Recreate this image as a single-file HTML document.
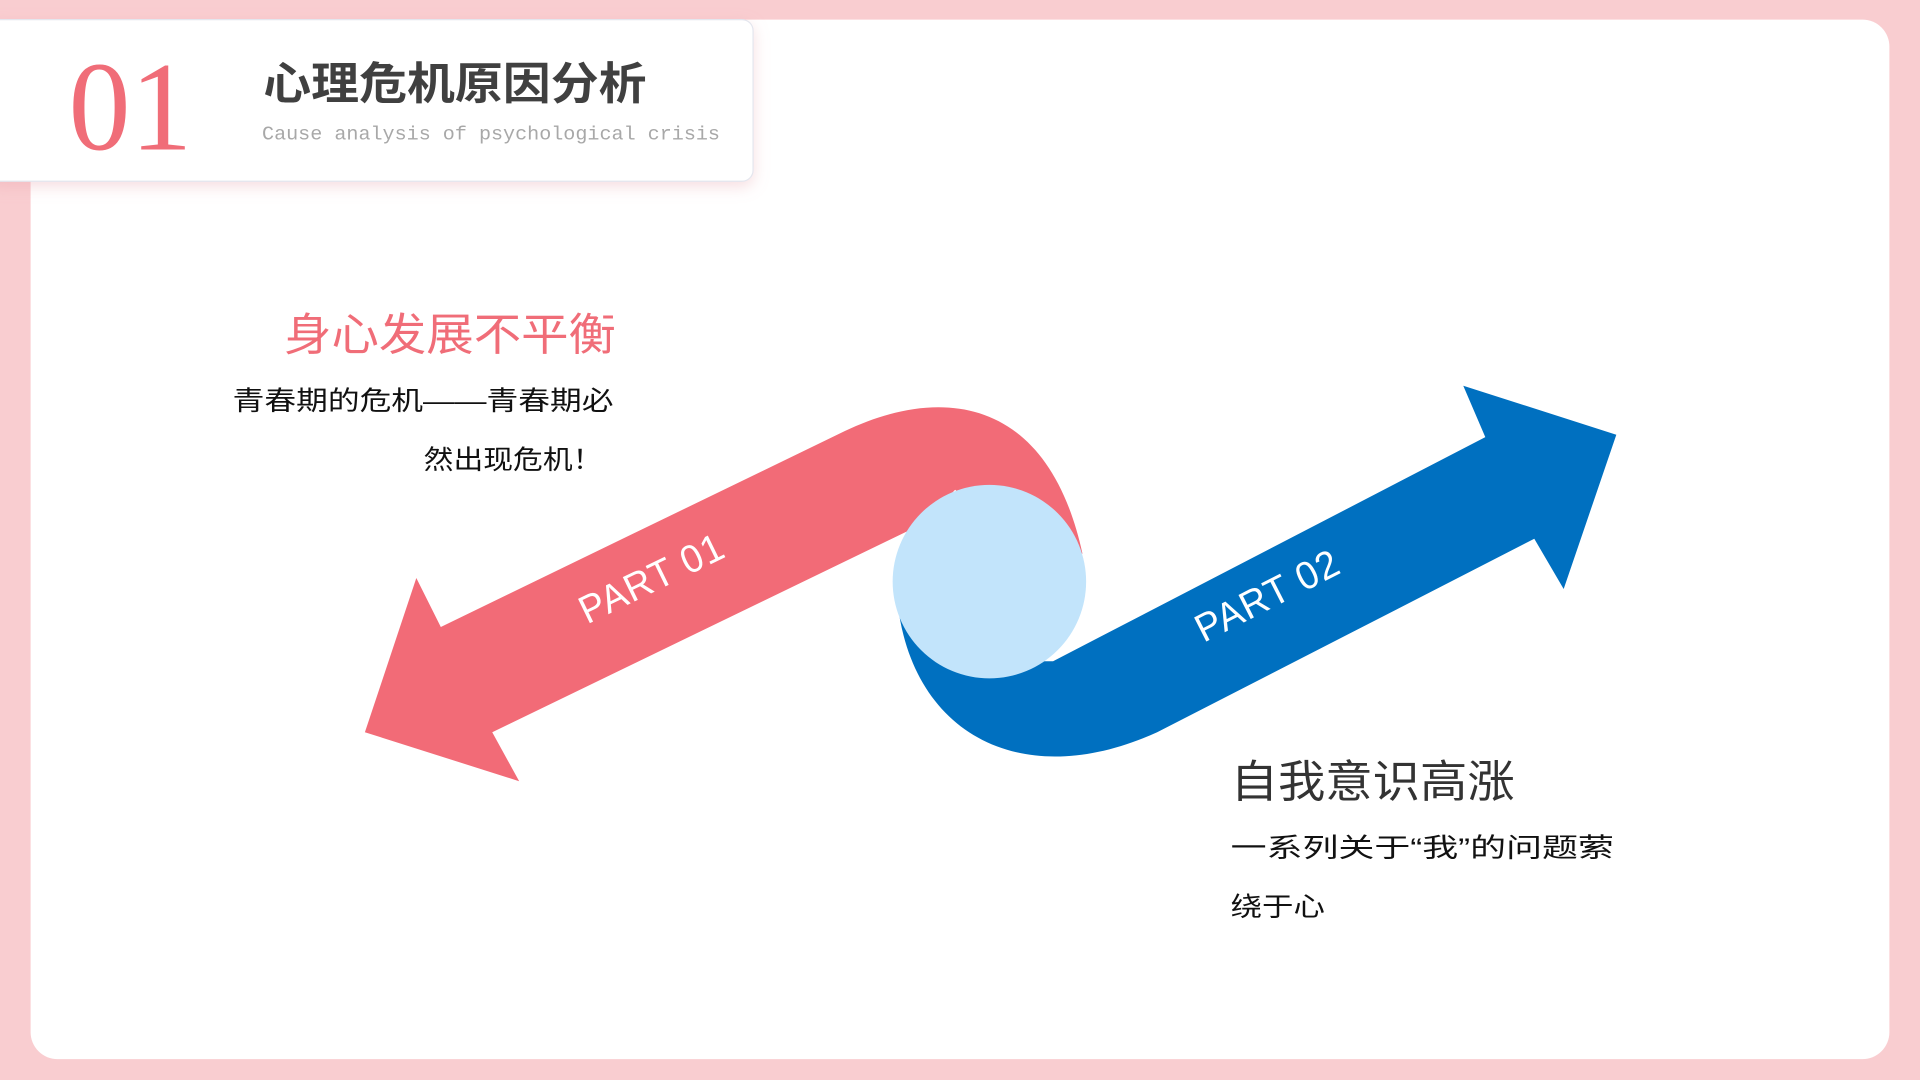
<!DOCTYPE html>
<html><head><meta charset="utf-8"><style>
html,body{margin:0;padding:0;background:#f9cdd0;}
svg{display:block}
</style></head><body>
<svg width="1920" height="1080" viewBox="0 0 1568 882" xmlns="http://www.w3.org/2000/svg">
<defs>
<filter id="sh" x="-10%" y="-20%" width="120%" height="150%"><feDropShadow dx="0" dy="4" stdDeviation="6" flood-color="#e8a0a8" flood-opacity="0.35"/></filter>
</defs>
<rect x="0" y="0" width="1568" height="882" fill="#f9cdd0"/>
<rect x="25" y="16" width="1518" height="849" rx="22" fill="#ffffff"/>
<rect x="-10" y="16" width="625" height="132" rx="9" fill="#ffffff" stroke="#e4e6ee" stroke-width="1" filter="url(#sh)"/>
<text x="56" y="122" font-family="Liberation Serif, serif" font-size="104" fill="#f06d78" textLength="101" lengthAdjust="spacingAndGlyphs">01</text>
<text x="215" y="81" font-family="Liberation Sans, 'Noto Sans CJK SC', sans-serif" font-size="36" font-weight="bold" fill="#404040" textLength="313" lengthAdjust="spacingAndGlyphs">心理危机原因分析</text>
<text x="214" y="114" font-family="Liberation Mono, monospace" font-size="16" fill="#a8a8a8" textLength="374" lengthAdjust="spacingAndGlyphs">Cause analysis of psychological crisis</text>

<path d="M360,512 L690,352 C765,316 855,320 884,452 L860,470 L780,400 L753,428 L402,598 L424,638 L298,598 L340,472 Z" fill="#f26b77"/>
<path d="M733,492 C745,600 835,648 945,598 L1253,440 L1277,481 L1320,355 L1195,315 L1213,357 L860,540 L800,540 Z" fill="#0070c0"/>
<circle cx="808" cy="475" r="79" fill="#c2e4fb"/>

<text transform="translate(537,482) rotate(-26)" text-anchor="middle" font-family="Liberation Sans, sans-serif" font-size="32" fill="#ffffff" letter-spacing="1" textLength="128" lengthAdjust="spacingAndGlyphs">PART 01</text>
<text transform="translate(1040,496) rotate(-27)" text-anchor="middle" font-family="Liberation Sans, sans-serif" font-size="32" fill="#ffffff" letter-spacing="1" textLength="128" lengthAdjust="spacingAndGlyphs">PART 02</text>

<g font-family="Liberation Sans, 'Noto Sans CJK SC', sans-serif">
<text x="232" y="286" font-size="36" fill="#f06d78" textLength="271" lengthAdjust="spacingAndGlyphs">身心发展不平衡</text>
<text x="190" y="335" font-size="22" fill="#111" textLength="311" lengthAdjust="spacingAndGlyphs">青春期的危机——青春期必</text>
<text x="346" y="383" font-size="22" fill="#111" textLength="146" lengthAdjust="spacingAndGlyphs">然出现危机！</text>
<text x="1005" y="651" font-size="36" fill="#333" textLength="232" lengthAdjust="spacingAndGlyphs">自我意识高涨</text>
<text x="1005" y="700" font-size="22" fill="#111" textLength="313" lengthAdjust="spacingAndGlyphs">一系列关于“我”的问题萦</text>
<text x="1005" y="748" font-size="22" fill="#111" textLength="77" lengthAdjust="spacingAndGlyphs">绕于心</text>
</g>
</svg>
</body></html>
